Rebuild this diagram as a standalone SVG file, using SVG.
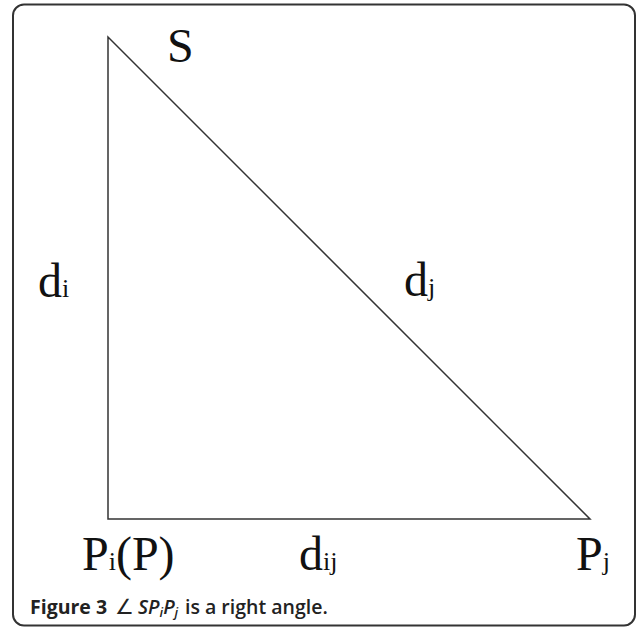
<svg xmlns="http://www.w3.org/2000/svg" width="637" height="628" viewBox="0 0 637 628">
<style>
.lbl{font-family:"Liberation Serif","Times New Roman",serif;font-size:48px;fill:#111}
.sub{font-size:26px}
.cap{font-family:"Open Sans","Liberation Sans",sans-serif;font-size:19.5px;font-weight:600;fill:#222}
</style>
<rect x="13" y="4.5" width="622" height="621" rx="11" ry="11" fill="#fff" stroke="#333" stroke-width="2"/>
<g id="connectors" fill="none" stroke="#333" stroke-width="1.5">
<polygon points="108,37 108,519 590,519"/>
</g>
<g id="S"><text class="lbl" x="167" y="62">S</text></g>
<g id="di"><text class="lbl" x="38" y="297">d<tspan class="sub">i</tspan></text></g>
<g id="dj"><text class="lbl" x="404" y="296">d<tspan class="sub">j</tspan></text></g>
<g id="Pi"><text class="lbl" x="82" y="570">P<tspan class="sub">i</tspan>(P)</text></g>
<g id="dij"><text class="lbl" x="299" y="570">d<tspan class="sub">ij</tspan></text></g>
<g id="Pj"><text class="lbl" x="576" y="570">P<tspan class="sub">j</tspan></text></g>
<g id="caption"><text class="cap" x="30" y="614"><tspan font-weight="bold">Figure 3</tspan><tspan x="115" font-size="21" font-weight="normal">∠</tspan><tspan x="138" font-style="italic">SP<tspan font-size="13" dy="3">i</tspan><tspan dy="-3">P</tspan><tspan font-size="13" dy="3">j</tspan></tspan><tspan x="185" dy="-3">is a right angle.</tspan></text></g>
</svg>
